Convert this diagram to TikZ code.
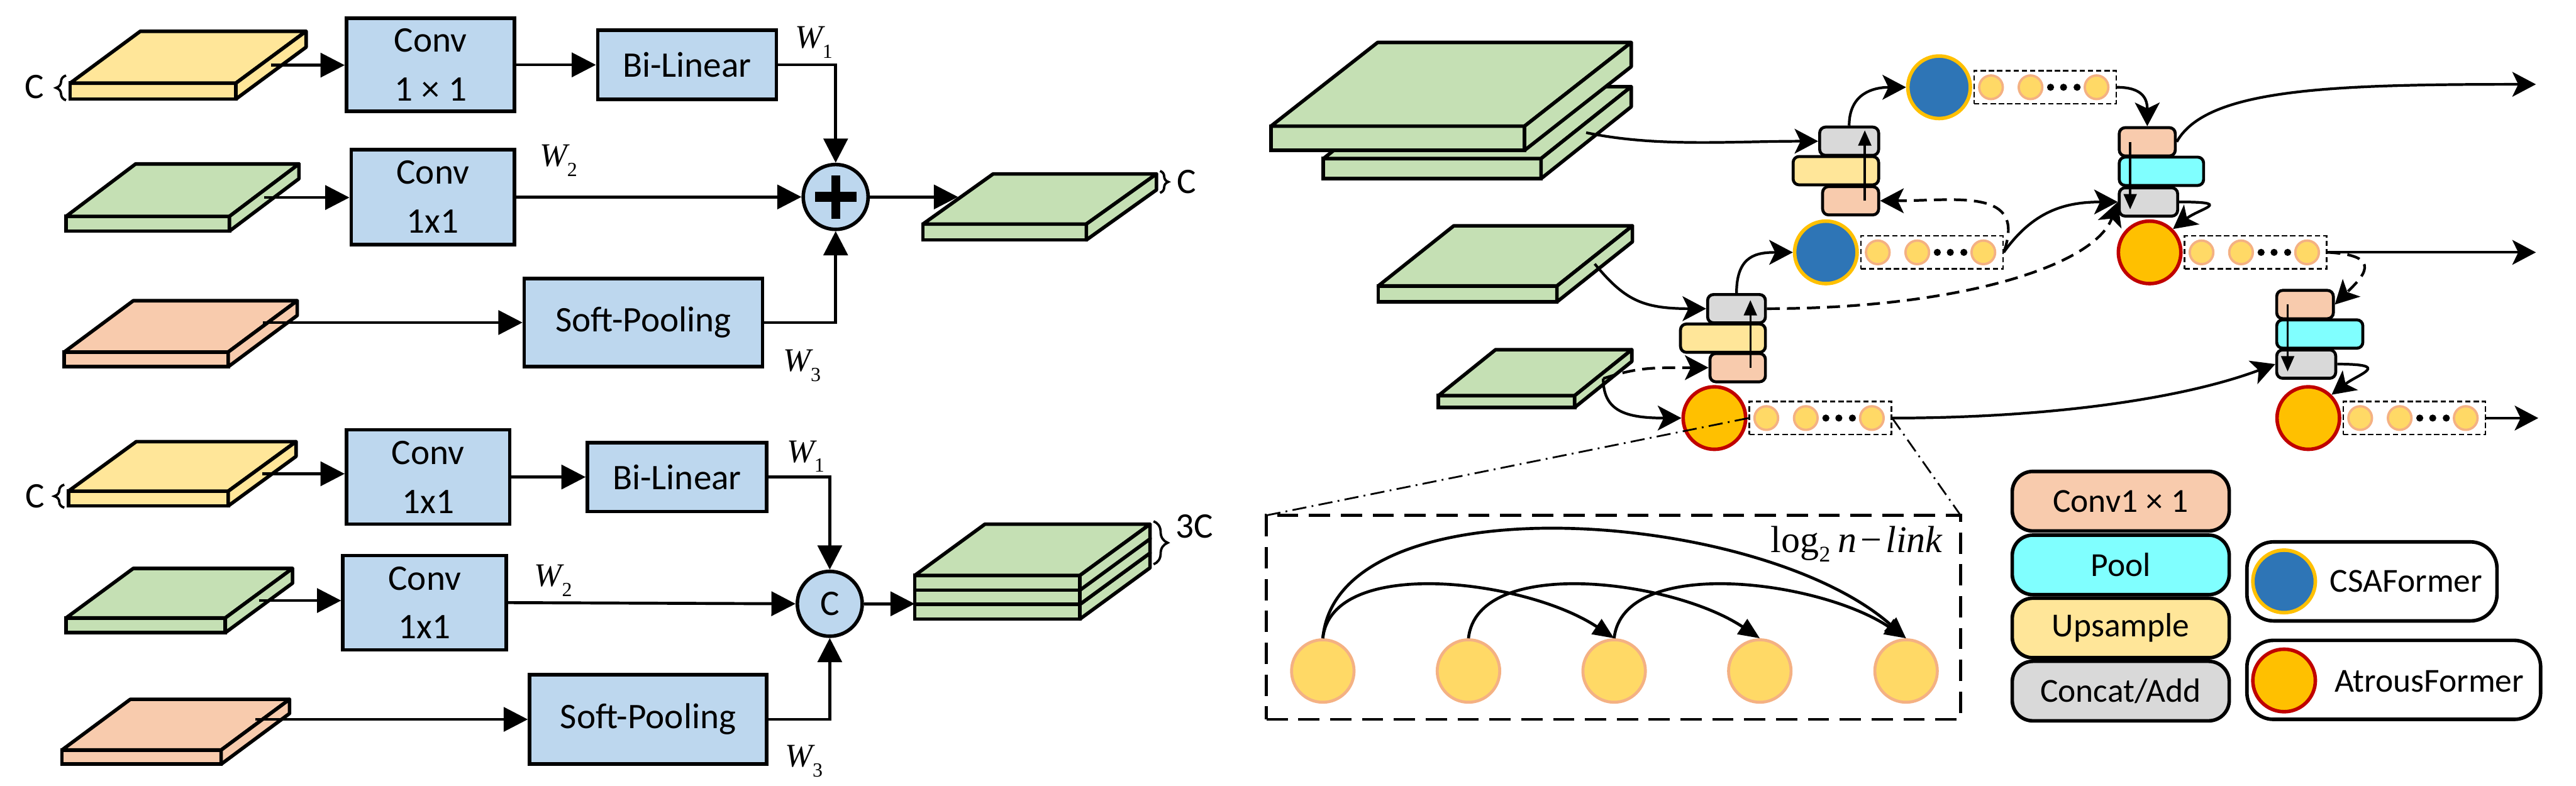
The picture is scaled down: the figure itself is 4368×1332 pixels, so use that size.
\documentclass[tikz,border=0pt]{standalone}
\usepackage{fontspec}
\setmainfont{Carlito}
\newfontfamily\tms{Liberation Serif}
\usetikzlibrary{arrows.meta,calc,decorations.pathreplacing,positioning}

\definecolor{boxblue}{HTML}{BDD7EE}
\definecolor{slabyellow}{HTML}{FFE699}
\definecolor{slabgreen}{HTML}{C5E0B4}
\definecolor{slaborange}{HTML}{F8CBAD}
\definecolor{opgray}{HTML}{D9D9D9}
\definecolor{opcyan}{HTML}{80FFFF}
\definecolor{csablue}{HTML}{2E75B6}
\definecolor{csaring}{HTML}{FFC000}
\definecolor{afgold}{HTML}{FFC000}
\definecolor{afring}{HTML}{C00000}
\definecolor{tokfill}{HTML}{FFD966}
\definecolor{tokring}{HTML}{F4B183}

\tikzset{block/.style={draw,line width=6pt,fill=boxblue,inner sep=0pt,align=center,
      font=\fontsize{61}{83}\selectfont},
    slabface/.style={draw,line width=6pt,inner sep=0pt,outer sep=0pt},
    slabline/.style={draw,line width=6pt,line join=round},
    fuse/.style={circle,draw,line width=6pt,fill=boxblue,minimum size=110pt,inner sep=0pt,
      font=\fontsize{61}{61}\selectfont},
    arr/.style={line width=5pt,-{Triangle[length=41pt,width=41pt]}},
    sidetag/.style={inner sep=0pt,font=\fontsize{61}{61}\selectfont},
    wtag/.style={inner sep=0pt,font=\fontsize{56}{56}\selectfont},
    dimbrace/.style={decorate,decoration={brace,amplitude=17pt},line width=4pt},
    opbox/.style={draw,line width=5pt,rounded corners=10pt,inner sep=0pt,minimum height=48pt},
    csa/.style={circle,fill=csablue,draw=csaring,line width=6pt,minimum size=106pt,inner sep=0pt},
    atrous/.style={circle,fill=afgold,draw=afring,line width=6pt,minimum size=106pt,inner sep=0pt},
    chainbox/.style={draw,line width=2.5pt,dash pattern=on 9pt off 5pt,minimum width=241pt,
      minimum height=56pt,inner sep=0pt},
    tok/.style={circle,fill=tokfill,draw=tokring,line width=4pt,minimum size=40pt,inner sep=0pt},
    chaindot/.style={circle,fill=black,minimum size=12pt,inner sep=0pt},
    stream/.style={line width=4.5pt,-{Stealth[length=40pt,width=42pt,inset=10pt]}},
    shortcut/.style={stream,dash pattern=on 22pt off 12pt},
    passup/.style={line width=3.5pt,-{Triangle[length=26pt,width=22pt]}},
    zoombox/.style={draw,line width=5pt,dash pattern=on 36pt off 18pt,inner sep=0pt,outer sep=0pt},
    zoomline/.style={line width=3pt,dash pattern=on 24pt off 9pt on 3pt off 9pt},
    bigtok/.style={circle,fill=tokfill,draw=tokring,line width=5pt,minimum size=106pt,inner sep=0pt},
    linkarc/.style={line width=5pt,-{Triangle[length=36pt,width=30pt]}},
    legendbox/.style={draw,line width=6pt,rounded corners=35pt,minimum width=368pt,
      minimum height=101pt,inner sep=0pt,font=\fontsize{57}{57}\selectfont}}

% feature map: name, colour, front top-left, width, thickness, depth
\newcommand{\slab}[6]{%
  \node[slabface,fill=#2,minimum width=#4,minimum height=#5,anchor=north west] (#1) at #3 {};
  \draw[slabline,fill=#2] (#1.north west) -- ++#6 -- ++(#4,0) -- (#1.north east) -- cycle;
  \draw[slabline,fill=#2] (#1.north east) -- ++#6 -- ++(0,#5) -- (#1.south east) -- cycle;
  \coordinate (#1-s) at ($(#1.east)+0.5*#6$);
  \coordinate (#1-l) at ($(#1.north west)+0.5*#6$);
  \coordinate (#1-bt) at ($(#1.north east)+#6$);
  \coordinate (#1-bb) at ($(#1.south east)+#6$);
}
% token sequence after a former block
\newcommand{\tokenrow}[2]{%
  \node[chainbox,anchor=west] (#1) at ([xshift=2pt]#2.east) {};
  \foreach \k/\dx in {1/30,2/97,3/209}
    \node[tok] (#1-t\k) at ([xshift=\dx pt]#1.west) {};
  \foreach \k/\dx in {1/131,2/153,3/176}
    \node[chaindot] (#1-d\k) at ([xshift=\dx pt]#1.west) {};
}
\newcommand{\wlab}[1]{{\tms\itshape W}\raisebox{-17pt}{\fontsize{34}{34}\selectfont\tms #1}}

\begin{document}
\begin{tikzpicture}[x=1pt,y=-1pt]

  \useasboundingbox (0,0) rectangle (4368,1332);

  % Upper fusion: weighted add

  \slab{y1}{slabyellow}{(119,141)}{281}{27}{(119,-88)}
  \slab{g1}{slabgreen}{(112,367)}{277}{25}{(118,-89)}
  \slab{o1}{slaborange}{(109,597)}{278}{25}{(117,-87)}
  \slab{outA}{slabgreen}{(1565,380)}{277}{27}{(119,-85)}

  \node[block,minimum width=285,minimum height=158] (c1) at (730,110) {Conv\\1\hspace{.25em}×\hspace{.25em}1};
  \node[block,minimum width=303,minimum height=117] (bl1) at (1165,110) {Bi-Linear};
  \node[block,minimum width=277,minimum height=161] (c2) at (734,334) {Conv\\1x1};
  \node[block,minimum width=404,minimum height=149] (sp1) at (1091,547) {Soft-Pooling};
  \node[fuse] (plus) at (1417,334) {};
  \draw[line width=17pt] ([xshift=-35pt]plus.center) -- ([xshift=35pt]plus.center);
  \draw[line width=15pt] ([yshift=-37pt]plus.center) -- ([yshift=37pt]plus.center);

  \draw[arr] (y1-s) -- (y1-s -| c1.west);
  \draw[arr] (c1.east) -- (bl1.west |- c1.east);
  \draw[arr] (bl1.east) -| (plus.north);
  \draw[arr] (g1-s) -- (g1-s -| c2.west);
  \draw[arr] (c2.east) -- (plus.west);
  \draw[arr] (o1-s |- sp1.west) -- (sp1.west);
  \draw[arr] (sp1.east) -| (plus.south);
  \draw[arr] (plus.east) -- (plus.east -| outA-l);

  \node[wtag] (w1a) at (1380,72) {\wlab{1}};
  \node[wtag] (w2a) at (947,272) {\wlab{2}};
  \node[wtag] (w3a) at (1360,620) {\wlab{3}};

  \draw[dimbrace] ([xshift=-7pt,yshift=-2pt]y1.south west) -- ([xshift=-7pt,yshift=13pt]y1.north west);
  \node[sidetag,anchor=east] (cy1) at ([xshift=-44pt,yshift=7pt]y1.west) {C};
  \draw[dimbrace,decoration={amplitude=14pt}] ([xshift=6pt,yshift=5pt]outA-bt) -- ([xshift=6pt,yshift=-5pt]outA-bb);
  \node[sidetag,anchor=west] (cA) at ($(outA-bt)!0.5!(outA-bb)+(35,0)$) {C};

  % Lower fusion: concatenation

  \slab{y2}{slabyellow}{(116,833)}{271}{25}{(115,-84)}
  \slab{g2}{slabgreen}{(112,1048)}{270}{25}{(114,-84)}
  \slab{o2}{slaborange}{(105,1272)}{270}{24}{(116,-86)}
  \foreach \i/\top in {3/1025, 2/1000, 1/976}{
    \slab{stk\i}{slabgreen}{(1551,\top)}{280}{25}{(119,-87)}
  }

  \node[block,minimum width=277,minimum height=160] (c3) at (726,809) {Conv\\1x1};
  \node[block,minimum width=304,minimum height=117] (bl2) at (1148,809) {Bi-Linear};
  \node[block,minimum width=277,minimum height=160] (c4) at (720,1022) {Conv\\1x1};
  \node[block,minimum width=402,minimum height=151] (sp2) at (1099,1220) {Soft-Pooling};
  \node[fuse] (cat) at (1407,1024) {C};

  \draw[arr] (y2-s) -- (y2-s -| c3.west);
  \draw[arr] (c3.east) -- (bl2.west |- c3.east);
  \draw[arr] (bl2.east) -| (cat.north);
  \draw[arr] (g2-s) -- (g2-s -| c4.west);
  \draw[arr] (c4.east) -- (cat.west);
  \draw[arr] (o2-s |- sp2.west) -- (sp2.west);
  \draw[arr] (sp2.east) -| (cat.south);
  \draw[arr] (cat.east) -- (cat.east -| stk1.west);

  \node[wtag] (w1b) at (1366,774) {\wlab{1}};
  \node[wtag] (w2b) at (938,985) {\wlab{2}};
  \node[wtag] (w3b) at (1363,1291) {\wlab{3}};

  \draw[dimbrace] ([xshift=-7pt,yshift=-3pt]y2.south west) -- ([xshift=-7pt,yshift=11pt]y2.north west);
  \node[sidetag,anchor=east] (cy2) at ([xshift=-40pt,yshift=4pt]y2.west) {C};
  \draw[dimbrace,decoration={amplitude=24pt}] ([xshift=6pt,yshift=5pt]stk1-bt) -- ([xshift=6pt,yshift=6pt]stk3-bb);
  \node[sidetag,anchor=west] (c3c) at ($(stk1-bt)+(43,4)$) {3C};

  % Decoder: feature maps

  \slab{f1b}{slabgreen}{(2244,269)}{369}{34}{(153,-122)}
  \slab{f1}{slabgreen}{(2155,214)}{430}{41}{(181,-142)}
  \slab{f2}{slabgreen}{(2337,485)}{303}{27}{(128,-102)}
  \slab{f3}{slabgreen}{(2439,671)}{231}{20}{(97,-78)}

  % operator stacks
  \foreach \nm/\col/\w/\top in {s1g/opgray/100/213, s1u/slabyellow/145/263, s1o/slaborange/95/314}
    \node[opbox,fill=\col,minimum width=\w,anchor=north east] (\nm) at (3188,\top) {};
  \foreach \nm/\col/\w/\top in {sag/opgray/98/497, sau/slabyellow/144/547, sao/slaborange/94/597}
    \node[opbox,fill=\col,minimum width=\w,anchor=north east] (\nm) at (2996,\top) {};
  \foreach \nm/\col/\w/\top in {s2o/slaborange/95/214, s2c/opcyan/143/264, s2g/opgray/99/316}
    \node[opbox,fill=\col,minimum width=\w,anchor=north west] (\nm) at (3591,\top) {};
  \foreach \nm/\col/\w/\top in {s3o/slaborange/96/490, s3c/opcyan/146/540, s3g/opgray/100/591}
    \node[opbox,fill=\col,minimum width=\w,anchor=north west] (\nm) at (3858,\top) {};

  % former blocks and their tokens
  \node[csa] (csa1) at (3288,148) {};
  \node[csa] (csa2) at (3096,428) {};
  \node[atrous] (af1) at (2907,709) {};
  \node[atrous] (af2) at (3645,428) {};
  \node[atrous] (af3) at (3914,709) {};
  \tokenrow{chain1}{csa1}
  \tokenrow{chain2}{csa2}
  \tokenrow{chainA}{af1}
  \tokenrow{chain3}{af2}
  \tokenrow{chain4}{af3}

  \coordinate (out1) at (4300,143);
  \coordinate (out2) at (4300,428);
  \coordinate (out3) at (4304,709);

  % Connect everything
  \draw[stream] (f1b-s) .. controls +(120,25) and +(-150,0) .. (s1g.west);
  \draw[stream] (s1g.north) .. controls +(0,-55) and +(-55,0) .. (csa1.west);
  \draw[passup] ([xshift=-26pt]s1o.east) -- ([xshift=-26pt,yshift=-8pt]s1g.north east);
  \draw[stream] (chain1.east) .. controls +(45,0) and +(0,-45) .. (s2o.north);
  \draw[stream] (s2o.east) .. controls +(50,-90) and +(-350,0) .. (out1);
  \draw[passup] ([xshift=21pt]s2o.west) -- ([xshift=21pt,yshift=14pt]s2g.south west);
  \draw[stream] (s2g.east) .. controls +(95,0) and +(45,-35) .. (af2.north east);
  \draw[stream] (chain3.east) -- (out2);
  \draw[shortcut] (chain3.east) .. controls +(100,5) and +(45,-45) .. (s3o.east);
  \draw[passup] ([xshift=21pt]s3o.west) -- ([xshift=21pt,yshift=14pt]s3g.south west);
  \draw[stream] (s3g.east) .. controls +(95,0) and +(45,-35) .. (af3.north east);
  \draw[stream] (chain4.east) -- (out3);
  \draw[stream] (chainA.east) .. controls +(260,0) and +(-160,60) .. (s3g.west);
  \draw[stream] (chain2.east) .. controls +(50,-70) and +(-90,0) .. (s2g.west);
  \draw[shortcut] (chain2.east) .. controls +(40,-110) and +(130,0) .. (s1o.east);
  \draw[shortcut] (sag.east) .. controls +(320,0) and +(-40,110) .. (s2g.west);
  \draw[stream] (sag.north) .. controls +(0,-65) and +(-60,0) .. (csa2.west);
  \draw[passup] ([xshift=-28pt]sao.east) -- ([xshift=-28pt,yshift=-12pt]sag.north east);
  \draw[stream] (f2-s) .. controls +(50,60) and +(-110,0) .. (sag.west);
  \draw[shortcut] (f3-s) .. controls +(60,-20) and +(-90,0) .. (sao.west);
  \draw[stream] (f3-s) .. controls +(0,55) and +(-95,0) .. (af1.west);

  % log2 n link close-up
  \node[zoombox,minimum width=1177,minimum height=346] (zoom) at (2736,1047) {};
  \draw[zoomline] (chainA.west) -- (zoom.north west);
  \draw[zoomline] (chainA.east) -- (zoom.north east);
  \foreach \i/\x in {1/2243, 2/2490, 3/2737, 4/2984, 5/3232}
    \node[bigtok] (n\i) at (\x,1138) {};
  \draw[linkarc] (n1.north) .. controls +(15,-140) and +(-150,-100) .. (n3.north);
  \draw[linkarc] (n2.north) .. controls +(15,-140) and +(-150,-100) .. (n4.north);
  \draw[linkarc] (n3.north) .. controls +(15,-140) and +(-150,-100) .. (n5.north);
  \draw[linkarc] (n1.north) .. controls +(25,-270) and +(-250,-220) .. (n5.north);
  \node[inner sep=0pt,anchor=north east,font=\fontsize{64}{64}\selectfont\tms] (lg)
    at ([xshift=-30pt,yshift=-18pt]zoom.north east)
    {log\raisebox{-16pt}{\fontsize{38}{38}\selectfont 2}\hspace{.2em}\textit{n}\hspace{.1em}−\hspace{.1em}\textit{link}};

  % legend
  \node[legendbox,fill=slaborange] (lconv) at (3596,850) {Conv1\hspace{.25em}×\hspace{.25em}1};
  \node[legendbox,fill=opcyan] (lpool) at (3596,958) {Pool};
  \node[legendbox,fill=slabyellow] (lup) at (3596,1065) {Upsample};
  \node[legendbox,fill=opgray] (lcat) at (3596,1172) {Concat/Add};
  \node[legendbox,fill=white,rounded corners=45pt,minimum width=424,minimum height=134] (lcsa) at (4022,986) {};
  \node[csa] (lcsac) at (3873,986) {};
  \node[inner sep=0pt,font=\fontsize{57}{57}\selectfont] (lcsat) at (4080,986) {CSAFormer};
  \node[legendbox,fill=white,rounded corners=45pt,minimum width=498,minimum height=134] (laf) at (4059,1153) {};
  \node[atrous] (lafc) at (3873,1154) {};
  \node[inner sep=0pt,font=\fontsize{57}{57}\selectfont] (laft) at (4119,1156) {AtrousFormer};

\end{tikzpicture}
\end{document}
